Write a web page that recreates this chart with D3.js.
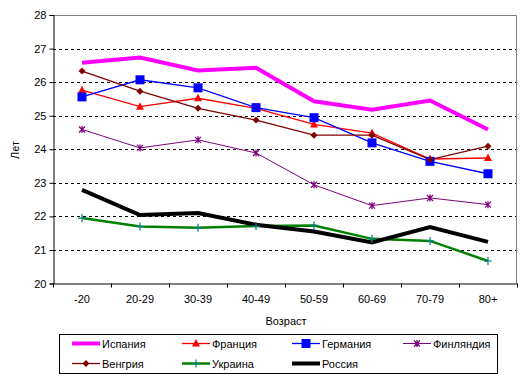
<!DOCTYPE html>
<html><head><meta charset="utf-8">
<script src="https://cdn.jsdelivr.net/npm/d3@7"></script>
<style>body{margin:0;background:#fff}svg{display:block;font-family:"Liberation Sans",Arial,sans-serif}</style>
</head><body><svg id="c" width="522" height="382"></svg>
<script>
const categories = ["-20","20-29","30-39","40-49","50-59","60-69","70-79","80+"];
const yTicks = [20,21,22,23,24,25,26,27,28];
const seriesNames = ["Испания","Франция","Германия","Финляндия","Венгрия","Украина","Россия"];
const spain   = [26.58,26.73,26.35,26.43,25.43,25.18,25.45,24.59];
const france  = [25.76,25.27,25.52,25.22,24.74,24.48,23.71,23.74];
const germany = [25.56,26.07,25.83,25.24,24.94,24.19,23.64,23.27];
const finland = [24.59,24.04,24.28,23.89,22.94,22.32,22.55,22.35];
const hungary = [26.33,25.73,25.22,24.87,24.42,24.42,23.69,24.09];
const ukraine = [21.95,21.70,21.66,21.71,21.73,21.33,21.27,20.67];
const russia  = [22.79,22.04,22.10,21.75,21.55,21.22,21.68,21.24];

const styles = [
  {c:"#ff00ff", w:4, m:"none"},
  {c:"#ff0000", w:1.3, m:"tri", mc:"#ff0000"},
  {c:"#0000ff", w:1.3, m:"sq", mc:"#0000ff"},
  {c:"#800080", w:1, m:"star", mc:"#800080"},
  {c:"#800000", w:1.3, m:"dia", mc:"#800000"},
  {c:"#008000", w:2.5, m:"plus", mc:"#008080"},
  {c:"#000000", w:4, m:"none"}
];
const data = [spain,france,germany,finland,hungary,ukraine,russia];

const svg = d3.select("#c");
const L=53, R=517, T=15, B=283.5;
const x = d3.scaleBand().domain(categories).range([L,R]);
const y = d3.scaleLinear().domain([20,28]).range([B,T]);

// grid
svg.append("g").selectAll("line").data(yTicks.filter(t=>t>20&&t<28)).join("line")
  .attr("x1",L).attr("x2",R).attr("y1",d=>Math.round(y(d))+0.5).attr("y2",d=>Math.round(y(d))+0.5)
  .attr("stroke","#000").attr("stroke-dasharray","3,3").attr("stroke-width",1);
// top/right border
svg.append("path").attr("d",`M${L},${T+0.5}H${R-0.5}V${B}`).attr("fill","none").attr("stroke","#808080");

// axes
const yAxis = d3.axisLeft(y).tickValues(yTicks).tickSize(4).tickPadding(3).tickFormat(d3.format("d"));
const gy = svg.append("g").attr("transform",`translate(${L+0.5},0)`).call(yAxis);
gy.selectAll("text").attr("font-size",11).attr("fill","#000").style("font-family","Liberation Sans, Arial");
gy.selectAll("line,path").attr("stroke","#000");
const xAxis = d3.axisBottom(x).tickSize(0).tickPadding(12);
const gx = svg.append("g").attr("transform",`translate(0,${B})`).call(xAxis);
gx.select(".domain").attr("stroke","#000");
gx.selectAll("text").attr("font-size",11).attr("fill","#000").style("font-family","Liberation Sans, Arial");
// x tick marks at band edges
gx.selectAll(".edge").data(categories.map(c=>x(c)).concat([R])).join("line")
  .attr("x1",d=>Math.round(d)+0.5).attr("x2",d=>Math.round(d)+0.5).attr("y1",0).attr("y2",4).attr("stroke","#000");

svg.append("text").attr("x",286).attr("y",325).attr("text-anchor","middle").attr("font-size",11).text("Возраст");
svg.append("text").attr("transform","translate(19,150) rotate(-90)").attr("text-anchor","middle").attr("font-size",11).text("Лет");

function marker(g, type, col, cx, cy, scale){
  const s = scale||1;
  if(type==="tri") g.append("path").attr("d",`M${cx},${cy-4.5*s}L${cx+4*s},${cy+3*s}L${cx-4*s},${cy+3*s}Z`).attr("fill",col);
  if(type==="sq") g.append("rect").attr("x",cx-4.5*s).attr("y",cy-4.5*s).attr("width",9*s).attr("height",9*s).attr("fill",col);
  if(type==="dia") g.append("path").attr("d",`M${cx},${cy-3.5*s}L${cx+3.5*s},${cy}L${cx},${cy+3.5*s}L${cx-3.5*s},${cy}Z`).attr("fill",col);
  if(type==="plus") g.append("path").attr("d",`M${cx-4*s},${cy}H${cx+4*s}M${cx},${cy-4*s}V${cy+4*s}`).attr("stroke",col).attr("stroke-width",1.2);
  if(type==="star") g.append("path").attr("d",`M${cx-3*s},${cy-3*s}L${cx+3*s},${cy+3*s}M${cx-3*s},${cy+3*s}L${cx+3*s},${cy-3*s}M${cx},${cy-3.5*s}V${cy+3.5*s}`).attr("stroke",col).attr("stroke-width",1.3);
}

const line = d3.line().x((d,i)=>x(categories[i])+x.bandwidth()/2).y(d=>y(d));
const plot = svg.append("g");
data.forEach((vals,k)=>{
  const st = styles[k];
  plot.append("path").datum(vals).attr("d",line).attr("fill","none").attr("stroke",st.c).attr("stroke-width",st.w).attr("stroke-linejoin","miter");
});
data.forEach((vals,k)=>{
  const st = styles[k];
  if(st.m==="none") return;
  vals.forEach((v,i)=>marker(plot, st.m, st.mc, x(categories[i])+x.bandwidth()/2, y(v)));
});

// legend
svg.append("rect").attr("x",59.5).attr("y",334.5).attr("width",438).attr("height",39).attr("fill","none").attr("stroke","#000");
const colX=[72,182,292,403], rowY=[343.5,363.5];
seriesNames.forEach((n,k)=>{
  const st = styles[k];
  const cx = colX[k%4], cy = rowY[Math.floor(k/4)];
  const g = svg.append("g");
  g.append("line").attr("x1",cx).attr("x2",cx+28).attr("y1",cy).attr("y2",cy).attr("stroke",st.c).attr("stroke-width",st.w);
  if(st.m!=="none") marker(g, st.m, st.mc, cx+14, cy);
  g.append("text").attr("x",cx+30).attr("y",cy+4).attr("font-size",11).text(n);
});
</script></body></html>
